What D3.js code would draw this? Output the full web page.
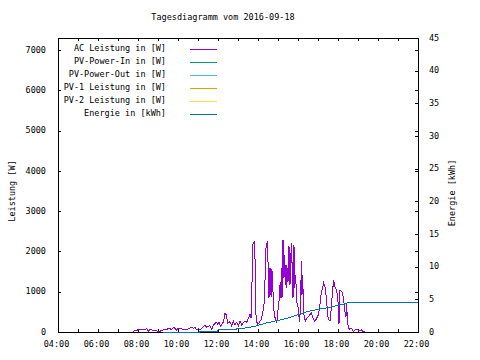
<!DOCTYPE html>
<html><head><meta charset="utf-8">
<script src="https://cdn.jsdelivr.net/npm/d3@7"></script>
<style>
body{margin:0;background:#fff}
svg{display:block}
text{font-family:"DejaVu Sans Mono","Liberation Mono",monospace;font-size:8.5px;fill:#000}
</style></head><body><svg id="c" width="480" height="360"></svg>
<script>
const title = "Tagesdiagramm vom 2016-09-18";
const yLeftLabel = "Leistung [W]";
const yRightLabel = "Energie [kWh]";
const legendLabels = ["AC Leistung in [W]", "PV-Power-In in [W]", "PV-Power-Out in [W]", "PV-1 Leistung in [W]", "PV-2 Leistung in [W]", "Energie in [kWh]"];
const seriesColors = ["#9400d3", "#009e73", "#56b4e9", "#e69f00", "#f0e442", "#0072b2"];
const xTickLabels = ["04:00","06:00","08:00","10:00","12:00","14:00","16:00","18:00","20:00","22:00"];
const xMinorTickLabels = ["05:00","07:00","09:00","11:00","13:00","15:00","17:00","19:00","21:00"];
const yLeftTicks = [0,1000,2000,3000,4000,5000,6000,7000];
const yRightTicks = [0,5,10,15,20,25,30,35,40,45];

const acTimes = ["07:46","07:49","07:55","08:06","08:16","08:21","08:26","08:31","08:36","08:46","08:51","09:01","09:11","09:16","09:26","09:31","09:41","09:46","09:51","09:56","10:01","10:11","10:21","10:31","10:41","10:46","10:51","10:56","11:01","11:06","11:16","11:21","11:26","11:36","11:41","11:46",
"11:51","11:56","11:59","12:03","12:07","12:11","12:16","12:21","12:25","12:29","12:36","12:41","12:46","12:51","12:56","13:01","13:06","13:11","13:16","13:21","13:26","13:31","13:36","13:39","13:41","13:44","13:49","13:52","13:54","13:58","14:04","14:09","14:14","14:19","14:24","14:28","14:31","14:33","14:35","14:37","14:39","14:41","14:43","14:46","14:49","14:53","14:56",
"15:00","15:03","15:05","15:08","15:10","15:12","15:15","15:18","15:20","15:22","15:24","15:26","15:28","15:30","15:33","15:36","15:40","15:43","15:45","15:48","15:50","15:53","15:56","16:00","16:03","16:05","16:08","16:10","16:12","16:14","16:16","16:18","16:22","16:28","16:35","16:40","16:45","16:50","16:55","17:00","17:05","17:08","17:12","17:17","17:22","17:26","17:29","17:32","17:36","17:40","17:43","17:47","17:52","17:56","18:00","18:03","18:05",
"18:06","18:11","18:14","18:18","18:21","18:24","18:26","18:28","18:31","18:34","18:41","18:46","18:51","19:01","19:06","19:11","19:16","19:21"];
const acValues = [0,33,41,66,66,50,83,25,66,33,50,8,33,50,50,91,66,116,91,50,91,75,58,75,116,91,108,58,83,58,133,174,116,158,66,174,
216,241,191,257,133,191,241,465,423,216,257,158,274,174,241,158,274,174,241,274,241,340,440,340,755,2166,2249,1585,423,174,241,299,465,755,2083,2249,1502,838,1585,921,1585,880,1502,755,423,299,216,
548,755,1170,838,1585,838,2291,1336,1917,1170,1668,1087,1585,1253,2125,1170,2208,1502,838,2166,1087,1419,755,631,382,257,755,1751,921,1419,755,423,274,357,423,465,340,274,324,407,589,880,1046,1220,1087,755,423,299,274,589,963,1290,1087,1046,755,191,1004,
1046,1004,963,714,506,382,714,299,133,66,91,8,50,50,25,50,8,0];

const pvInTimes = [], pvInValues = [];
const pvOutTimes = [], pvOutValues = [];
const pv1Times = [], pv1Values = [];
const pv2Times = [], pv2Values = [];

const energyTimes = ["09:15","11:05","11:06","11:59","12:00","12:30","13:15","13:45","14:00","14:21","14:57","15:27","15:57","16:27","16:51","17:21","17:45","18:06","18:26","18:31","22:00"];
const energyValues = [0,0,0.15,0.15,0.31,0.31,0.57,0.81,1.0,1.34,1.74,2.10,2.61,3.12,3.38,3.64,3.89,4.15,4.4,4.56,4.56];

const toMin = s => { const [h,m] = s.split(":").map(Number); return h*60+m; };
const zip = (t,v) => t.map((d,i)=>({t:toMin(d), v:v[i]}));

const L = 58, R = 418, T = 38, B = 332;
const svg = d3.select("#c");
const x = d3.scaleLinear().domain([toMin("04:00"), toMin("22:00")]).range([L, R]);
const yL = d3.scaleLinear().domain([0, 7300]).range([B, T]);
const yR = d3.scaleLinear().domain([0, 45]).range([B, T]);

svg.append("rect").attr("width",480).attr("height",360).attr("fill","#fff");

const allX = xTickLabels.concat(xMinorTickLabels).map(toMin);
const fmt = m => { const s = xTickLabels.find(l=>toMin(l)===m); return s||""; };

function styleAxis(g){
  g.select(".domain").remove();
  g.selectAll("line").attr("stroke","#000").attr("shape-rendering","crispEdges");
  g.selectAll("text").attr("font-family",null).attr("font-size",null).attr("fill","#000");
}

const gB = svg.append("g").attr("transform",`translate(0,${B})`)
  .call(d3.axisBottom(x).tickValues(allX).tickSize(-3).tickPadding(9).tickFormat(fmt));
styleAxis(gB);
gB.selectAll("text").attr("dx",-2);
const gT = svg.append("g").attr("transform",`translate(0,${T})`)
  .call(d3.axisTop(x).tickValues(allX).tickSize(-3).tickFormat(""));
styleAxis(gT);
const gL = svg.append("g").attr("transform",`translate(${L},0)`)
  .call(d3.axisLeft(yL).tickValues(yLeftTicks).tickSize(-3).tickPadding(12).tickFormat(d3.format("d")));
styleAxis(gL);
gL.selectAll("text").attr("dy","0.25em");
const gLm = svg.append("g").attr("transform",`translate(${R},0)`)
  .call(d3.axisRight(yL).tickValues(yLeftTicks).tickSize(-3).tickFormat(""));
styleAxis(gLm);
const gR = svg.append("g").attr("transform",`translate(${R},0)`)
  .call(d3.axisRight(yR).tickValues(yRightTicks).tickSize(-3).tickPadding(11).tickFormat(d3.format("d")));
styleAxis(gR);
gR.selectAll("text").attr("dy","0.25em");

svg.append("rect").attr("x",L+0.5).attr("y",T+0.5).attr("width",R-L).attr("height",B-T)
  .attr("fill","none").attr("stroke","#000").attr("shape-rendering","crispEdges");

svg.append("text").attr("x",223).attr("y",20).attr("text-anchor","middle").text(title);
svg.append("text").attr("transform","translate(15,191) rotate(-90)").attr("text-anchor","middle").text(yLeftLabel);
svg.append("text").attr("transform","translate(455,193) rotate(-90)").attr("text-anchor","middle").text(yRightLabel);

const lg = svg.append("g");
legendLabels.forEach((lab,i)=>{
  const yy = 49 + 13*i;
  lg.append("text").attr("x",166).attr("y",yy+2).attr("text-anchor","end").text(lab);
  lg.append("line").attr("x1",190).attr("x2",217).attr("y1",yy+0.5).attr("y2",yy+0.5)
    .attr("stroke",seriesColors[i]).attr("stroke-width",1).attr("shape-rendering","crispEdges");
});

const lineL = d3.line().x(d=>x(d.t)).y(d=>yL(d.v));
const lineR = d3.line().x(d=>x(d.t)).y(d=>yR(d.v));
const seriesL = [zip(acTimes,acValues), zip(pvInTimes,pvInValues), zip(pvOutTimes,pvOutValues), zip(pv1Times,pv1Values), zip(pv2Times,pv2Values)];
seriesL.forEach((s,i)=>{
  if(!s.length) return;
  svg.append("path").datum(s).attr("d",lineL).attr("fill","none")
    .attr("stroke",seriesColors[i]).attr("stroke-width",1).attr("shape-rendering","crispEdges");
});
svg.append("path").datum(zip(energyTimes,energyValues)).attr("d",lineR).attr("fill","none")
  .attr("stroke",seriesColors[5]).attr("stroke-width",1).attr("shape-rendering","crispEdges");
</script></body></html>
